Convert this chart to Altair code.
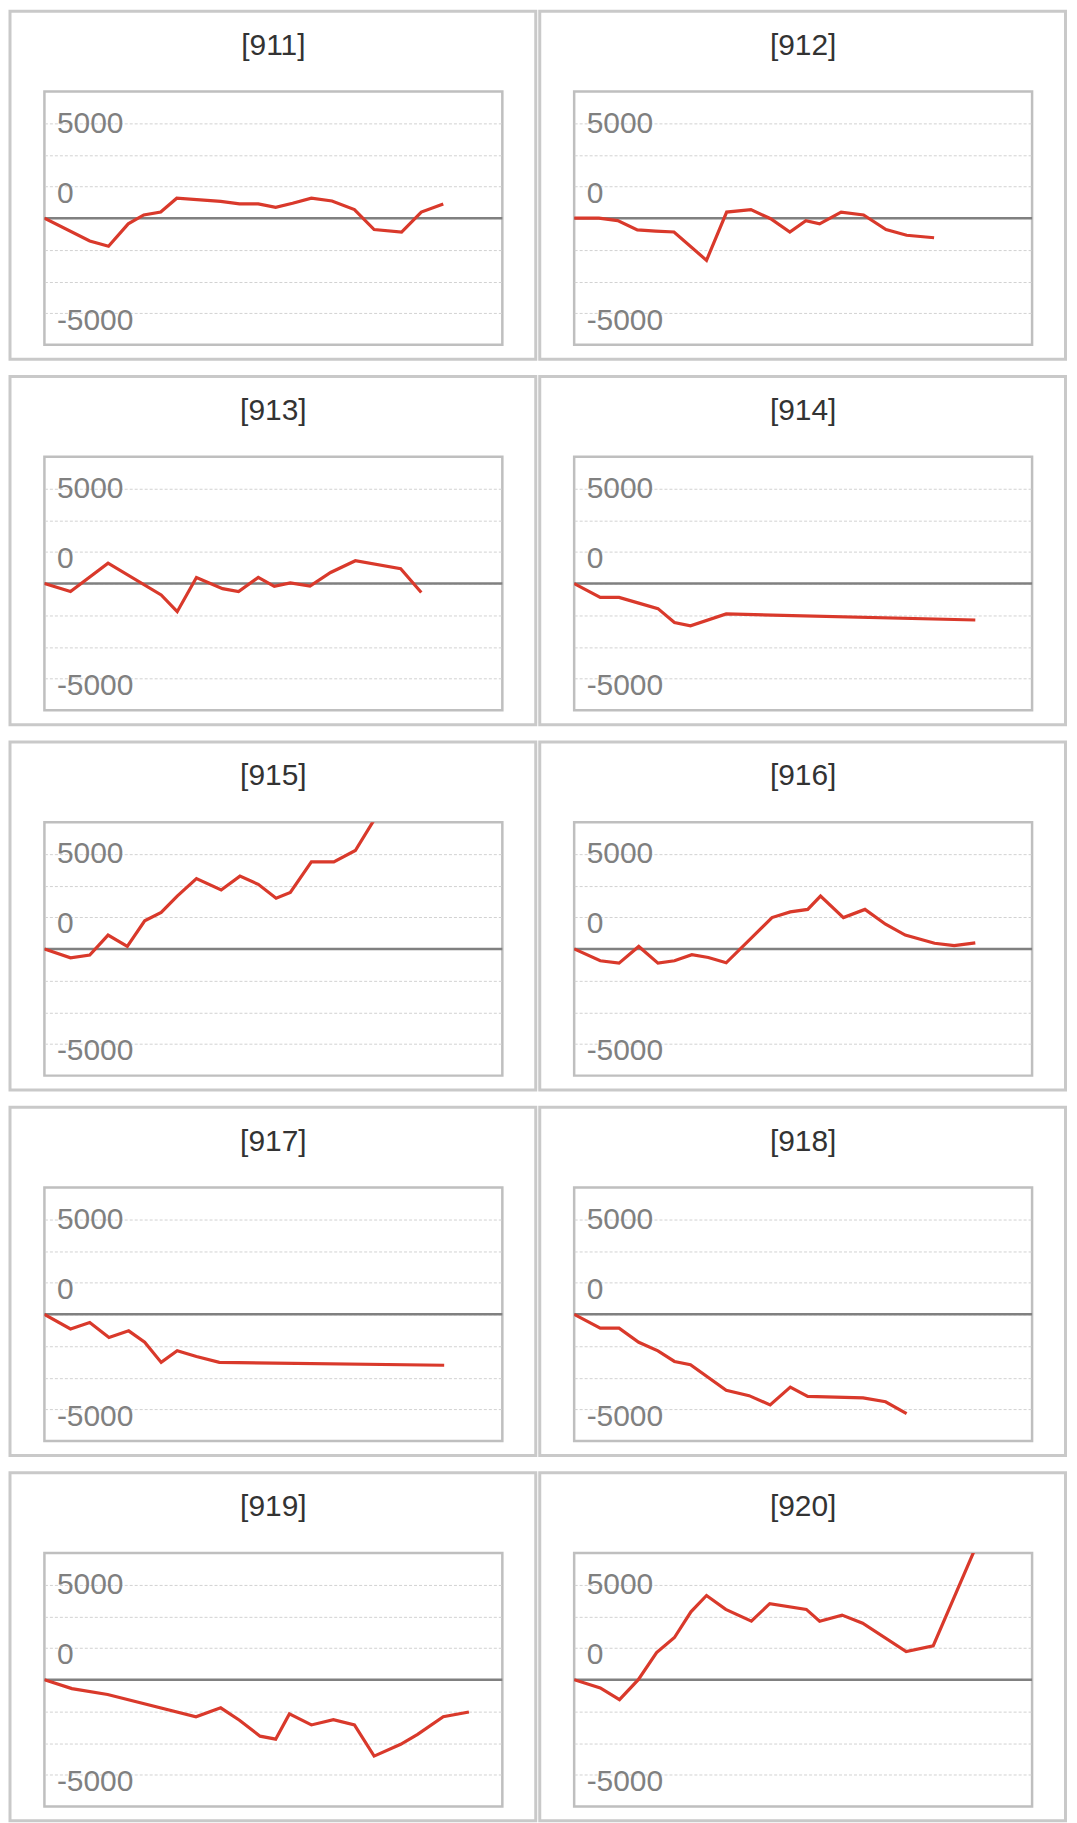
import altair as alt
import pandas as pd

# ---------------- data ----------------
panel_names = ["[911]", "[912]", "[913]", "[914]", "[915]",
               "[916]", "[917]", "[918]", "[919]", "[920]"]

x_911 = [0, 9.9, 14.0, 18.3, 21.7, 25.4, 28.9, 38.5, 42.6, 46.7, 50.5, 54.2, 58.3, 62.8, 67.7, 72.0, 78.0, 82.3, 87.1]
v_911 = [0, -1200, -1480, -300, 170, 320, 1050, 880, 750, 750, 570, 780, 1050, 900, 450, -600, -730, 320, 750]

x_912 = [0, 5.4, 9.5, 13.8, 17.8, 21.8, 28.9, 33.3, 38.6, 42.9, 47.1, 50.6, 53.6, 58.3, 63.2, 68.1, 72.6, 78.6]
v_912 = [0, 0, -130, -620, -680, -730, -2220, 320, 450, -30, -730, -130, -300, 320, 170, -600, -900, -1030]

x_913 = [0, 5.7, 13.9, 25.5, 29.0, 33.2, 38.9, 42.4, 46.7, 50.2, 53.7, 58.0, 62.5, 67.9, 77.8, 82.3]
v_913 = [0, -420, 1070, -600, -1480, 320, -270, -420, 320, -150, 30, -130, 580, 1200, 780, -470]

x_914 = [0, 5.7, 9.8, 14.1, 18.3, 21.9, 25.4, 33.2, 87.6]
v_914 = [0, -730, -730, -1030, -1320, -2050, -2220, -1600, -1920]

x_915 = [0, 5.7, 9.9, 13.9, 18.1, 21.9, 25.5, 29.0, 33.2, 38.6, 42.7, 46.7, 50.6, 53.7, 58.3, 63.2, 67.9, 71.9]
v_915 = [0, -470, -320, 730, 130, 1480, 1920, 2780, 3700, 3100, 3830, 3400, 2670, 2970, 4580, 4580, 5180, 6750]

x_916 = [0, 5.7, 9.8, 14.1, 18.3, 21.9, 25.7, 29.3, 33.2, 43.2, 47.2, 51.0, 53.8, 58.8, 63.5, 68.0, 72.3, 78.7, 83.0, 87.6]
v_916 = [0, -620, -750, 130, -750, -620, -300, -450, -730, 1650, 1950, 2080, 2780, 1650, 2080, 1300, 730, 300, 170, 320]

x_917 = [0, 5.7, 9.9, 14.1, 18.4, 21.9, 25.5, 29.0, 33.2, 38.2, 87.3]
v_917 = [0, -770, -430, -1220, -870, -1470, -2530, -1920, -2220, -2530, -2680]

x_918 = [0, 5.7, 9.8, 14.1, 18.3, 21.9, 25.4, 33.2, 38.2, 42.8, 47.2, 51.0, 63.1, 68.0, 72.6]
v_918 = [0, -730, -730, -1470, -1920, -2480, -2650, -4000, -4280, -4770, -3830, -4320, -4400, -4600, -5220]

x_919 = [0, 6.0, 13.8, 33.1, 38.5, 42.6, 47.1, 50.5, 53.5, 58.3, 63.1, 67.7, 72.0, 77.8, 81.5, 87.1, 92.7]
v_919 = [0, -470, -780, -1950, -1480, -2130, -2970, -3130, -1800, -2380, -2100, -2380, -4020, -3400, -2880, -1950, -1700]

x_920 = [0, 5.7, 9.9, 14.0, 18.0, 21.9, 25.5, 28.9, 33.1, 38.7, 42.7, 50.7, 53.6, 58.5, 63.0, 72.5, 78.4, 87.3]
v_920 = [0, -430, -1050, 0, 1430, 2220, 3570, 4430, 3700, 3080, 4000, 3700, 3080, 3400, 2970, 1480, 1780, 6750]

x_series = [x_911, x_912, x_913, x_914, x_915, x_916, x_917, x_918, x_919, x_920]
v_series = [v_911, v_912, v_913, v_914, v_915, v_916, v_917, v_918, v_919, v_920]

tick_values = [5000, 0, -5000]
tick_labels = ["5000", "0", "-5000"]
grid_step = 5000 / 3
grid_values = [grid_step * k for k in range(-3, 4)]
y_domain = [-4 * grid_step, 4 * grid_step]
x_domain = [0, 100]

# ---------------- styling ----------------
FONT = "Liberation Sans"
RED = "#d9392b"
W, H = 459, 254

label_expr = " : ".join(
    f"abs(datum.value - ({v})) < 1 ? '{t}'" for v, t in zip(tick_values, tick_labels)
) + " : ''"

y_axis = alt.Axis(
    values=grid_values,
    labelExpr=label_expr,
    title=None,
    domain=False,
    ticks=False,
    tickSize=0,
    labelAlign="left",
    labelPadding=-12,
    labelFont=FONT,
    labelFontSize=30,
    labelColor="#808080",
    labelOverlap=False,
    labelBaseline={"condition": {"test": "abs(datum.value) < 1", "value": "alphabetic"}, "value": "middle"},
    labelOffset={"condition": [
        {"test": "abs(datum.value) < 1", "value": -16},
        {"test": "abs(datum.value + 5000) < 1", "value": 7},
    ], "value": 0},
    grid=True,
    gridColor="#d2d2d2",
    gridDash=[3, 2],
    gridWidth=1,
)

x_scale = alt.Scale(domain=x_domain, nice=False, zero=False)
y_scale = alt.Scale(domain=y_domain, nice=False, zero=False)


def panel(name, xs, vs):
    df = pd.DataFrame({"t": xs, "v": vs})
    line = alt.Chart(df).mark_line(color=RED, strokeWidth=3.2, clip=True).encode(
        x=alt.X("t:Q", scale=x_scale, axis=None),
        y=alt.Y("v:Q", scale=y_scale, axis=y_axis),
    )
    zero = alt.Chart(alt.Data(values=[{"v": 0}])).mark_rule(
        color="#808080", strokeWidth=2.5
    ).encode(y=alt.Y("v:Q", scale=y_scale, axis=y_axis))
    frame = alt.Chart(alt.Data(values=[{"f": 1}])).mark_rect(
        fill="transparent", stroke="#c9c9c9", strokeWidth=3
    ).encode(
        x=alt.value(-34.5), x2=alt.value(W + 33.5),
        y=alt.value(-80.5), y2=alt.value(H + 14.5),
    )
    title = alt.Chart(alt.Data(values=[{"name": name}])).mark_text(
        font=FONT, fontSize=30, color="#333333", align="center", baseline="middle"
    ).encode(x=alt.value(W / 2), y=alt.value(-46), text="name:N")
    return alt.layer(frame, zero, line, title).properties(width=W, height=H)


panels = [panel(n, xs, vs) for n, xs, vs in zip(panel_names, x_series, v_series)]

chart = alt.concat(*panels, columns=2, spacing={"row": 10.25, "column": -3}).properties(
    padding={"left": -1.5, "top": -2.5, "right": 0, "bottom": 0}, background="white"
).configure_view(
    stroke="#bfbfbf", strokeWidth=2.5
)

chart.save("out.html", embed_options={"renderer": "svg", "actions": False})
